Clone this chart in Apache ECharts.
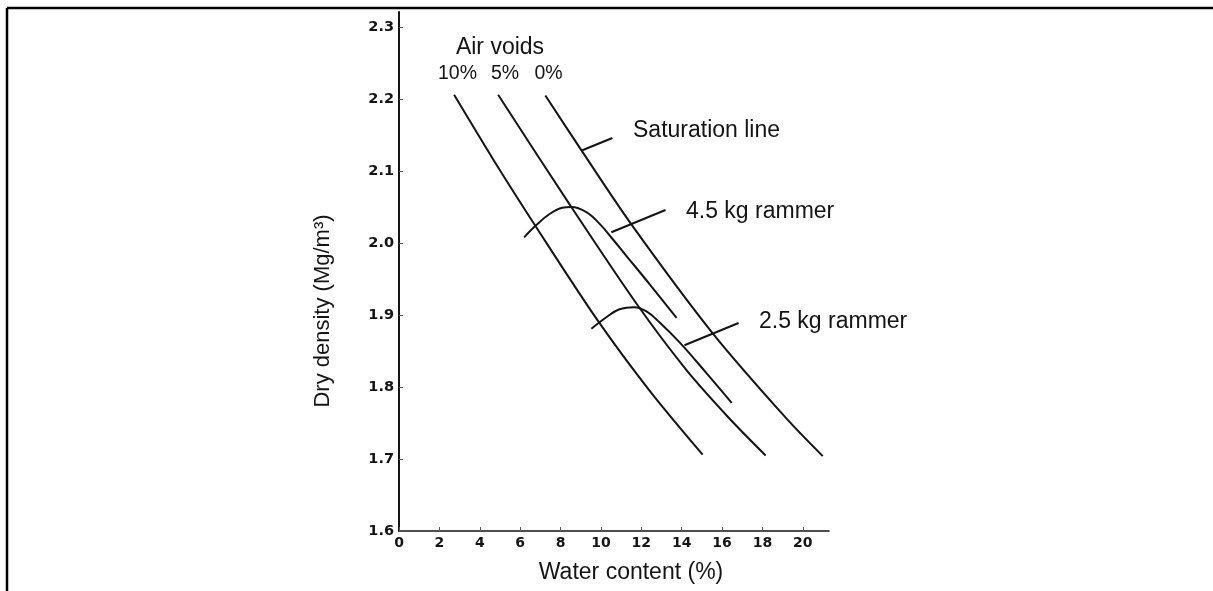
<!DOCTYPE html>
<html>
<head>
<meta charset="utf-8">
<script src="https://cdn.jsdelivr.net/npm/echarts@6/dist/echarts.min.js"></script>
<style>
  html, body { margin: 0; padding: 0; background: #ffffff; }
  #chart { width: 1213px; height: 591px; }
</style>
</head>
<body>
<div id="chart"></div>
<script>
// Compaction test: dry density against water content, with air-void lines
const xTicks = [0, 2, 4, 6, 8, 10, 12, 14, 16, 18, 20];
const yTicks = [1.6, 1.7, 1.8, 1.9, 2.0, 2.1, 2.2, 2.3];

// 10 % air voids
const voids10W = [2.73, 4.76, 6.80, 9.78, 12.41, 15.04];
const voids10D = [2.206, 2.112, 2.022, 1.895, 1.795, 1.706];
// 5 % air voids
const voids5W = [4.91, 8.49, 11.76, 14.20, 16.38, 18.16];
const voids5D = [2.206, 2.052, 1.916, 1.825, 1.756, 1.705];
// 0 % air voids (saturation line)
const voids0W = [7.25, 9.08, 11.51, 15.53, 19.20, 20.99];
const voids0D = [2.205, 2.127, 2.026, 1.875, 1.756, 1.704];

// 4.5 kg rammer compaction curve
const heavyW = [6.20, 6.80, 7.44, 8.09, 8.54, 9.28, 9.93, 10.57, 11.27, 12.41, 13.75];
const heavyD = [2.008, 2.025, 2.040, 2.049, 2.050, 2.043, 2.027, 2.006, 1.982, 1.943, 1.896];
// 2.5 kg rammer compaction curve
const lightW = [9.53, 10.27, 10.92, 11.66, 12.26, 12.90, 13.90, 15.24, 16.48];
const lightD = [1.881, 1.897, 1.908, 1.911, 1.905, 1.890, 1.862, 1.819, 1.778];

// leader lines from the labels to their curves
const satLeaderW = [9.08, 10.57];
const satLeaderD = [2.129, 2.146];
const heavyLeaderW = [10.52, 13.20];
const heavyLeaderD = [2.015, 2.046];
const lightLeaderW = [14.14, 16.82];
const lightLeaderD = [1.858, 1.889];

const zip = (xs, ys) => xs.map((x, i) => [x, ys[i]]);

const INK = '#141414';
const TEXT_FONT = '"Liberation Sans", Arial, sans-serif';
const TICK_FONT = '"DejaVu Sans", sans-serif';

function curve(name, xs, ys, smooth) {
  return {
    name: name,
    type: 'line',
    data: zip(xs, ys),
    smooth: smooth,
    showSymbol: false,
    silent: true,
    lineStyle: { color: INK, width: 2 }
  };
}

function label(text, x, y, size, align) {
  return {
    type: 'text',
    x: x, y: y,
    style: {
      text: text,
      fill: INK,
      font: 'normal ' + size + 'px ' + TEXT_FONT,
      align: align || 'left',
      verticalAlign: 'middle'
    }
  };
}

const chart = echarts.init(document.getElementById('chart'), null, { renderer: 'canvas' });

chart.setOption({
  animation: false,
  backgroundColor: '#ffffff',
  grid: { left: 399, top: 12, width: 430, height: 519, containLabel: false },
  xAxis: {
    type: 'value',
    min: 0,
    max: 21.3,
    splitLine: { show: false },
    axisLine: { show: true, onZero: false, lineStyle: { color: INK, width: 1.6 } },
    axisTick: { show: true, inside: true, length: 4, customValues: xTicks, lineStyle: { color: '#555', width: 1 } },
    axisLabel: {
      customValues: xTicks,
      color: INK,
      fontFamily: TICK_FONT,
      fontWeight: 'bold',
      fontSize: 14,
      margin: 5
    }
  },
  yAxis: {
    type: 'value',
    min: 1.6,
    max: 2.321,
    splitLine: { show: false },
    axisLine: { show: true, onZero: false, lineStyle: { color: INK, width: 2 } },
    axisTick: { show: true, inside: true, length: 4, customValues: yTicks, lineStyle: { color: '#555', width: 1 } },
    axisLabel: {
      customValues: yTicks,
      formatter: v => v.toFixed(1),
      color: INK,
      fontFamily: TICK_FONT,
      fontWeight: 'bold',
      fontSize: 14.5,
      margin: 5
    }
  },
  series: [
    curve('10% air voids', voids10W, voids10D, 0.3),
    curve('5% air voids', voids5W, voids5D, 0.3),
    curve('Saturation line', voids0W, voids0D, 0.3),
    curve('4.5 kg rammer', heavyW, heavyD, 0.4),
    curve('2.5 kg rammer', lightW, lightD, 0.4),
    curve('saturation leader', satLeaderW, satLeaderD, false),
    curve('4.5 kg leader', heavyLeaderW, heavyLeaderD, false),
    curve('2.5 kg leader', lightLeaderW, lightLeaderD, false)
  ],
  graphic: [
    // frame edges
    { type: 'line', shape: { x1: 7, y1: 8, x2: 1213, y2: 8 }, style: { stroke: '#000', lineWidth: 2.5 } },
    { type: 'line', shape: { x1: 7, y1: 8, x2: 7, y2: 591 }, style: { stroke: '#000', lineWidth: 2.5 } },
    // air void headings
    label('Air voids', 500, 48, 23, 'center'),
    label('10%', 457.5, 74, 19.5, 'center'),
    label('5%', 505, 74, 19.5, 'center'),
    label('0%', 548.5, 74, 19.5, 'center'),
    // curve labels
    label('Saturation line', 633, 131, 23),
    label('4.5 kg rammer', 686, 212, 23),
    label('2.5 kg rammer', 759, 322, 23),
    // axis titles
    label('Water content (%)', 631, 573, 23, 'center'),
    {
      type: 'text',
      x: 323, y: 311,
      rotation: Math.PI / 2,
      style: {
        text: 'Dry density (Mg/m³)',
        fill: INK,
        font: 'normal 22px ' + TEXT_FONT,
        align: 'center',
        verticalAlign: 'middle'
      }
    }
  ]
});
</script>
</body>
</html>
